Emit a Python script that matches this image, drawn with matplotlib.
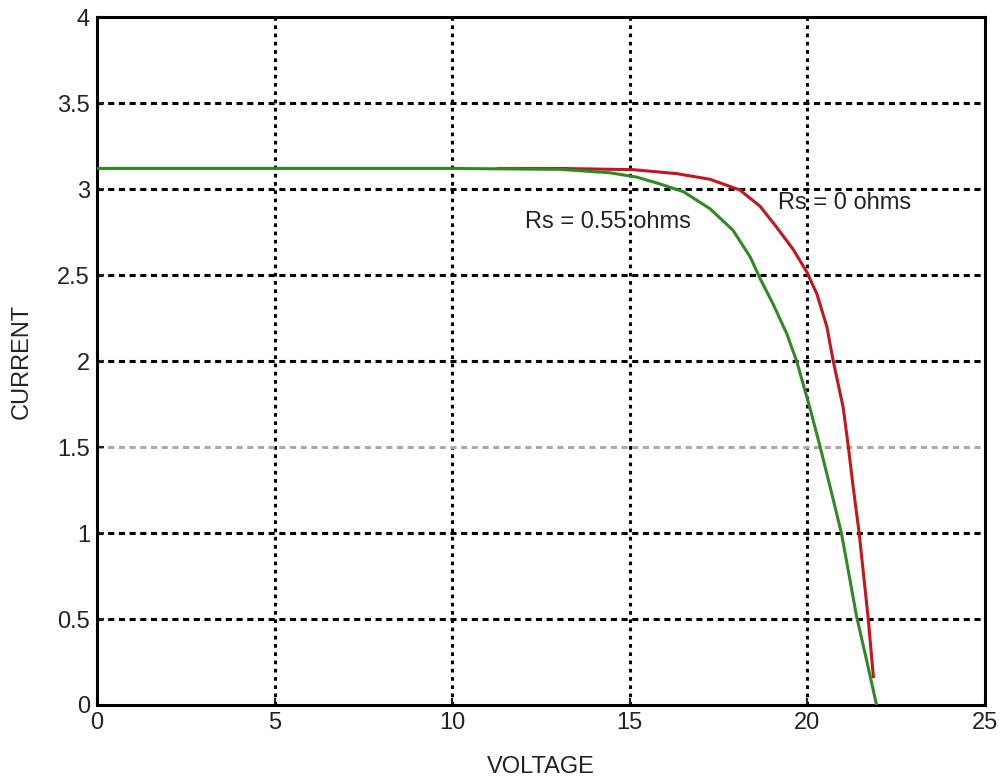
import matplotlib
matplotlib.use("Agg")
import matplotlib.pyplot as plt

plt.rcParams['font.family'] = ['Liberation Sans', 'DejaVu Sans']

# Rs = 0.55 ohms (green)
v_green = [0, 5, 10, 13.03, 14.44, 15.19, 15.85, 16.51, 17.26, 17.91, 18.39, 18.67, 19.04,
           19.42, 19.7, 20.07, 20.35, 20.64, 20.96, 21.39, 21.67, 21.95]
i_green = [3.12, 3.12, 3.12, 3.115, 3.095, 3.07, 3.03, 2.985, 2.886, 2.76, 2.606, 2.48, 2.33,
           2.16, 2.0, 1.73, 1.51, 1.27, 1.0, 0.513, 0.26, 0.0]

# Rs = 0 ohms (red)
v_red = [11.3, 13.03, 15.1, 16.32, 17.26, 18.1, 18.67, 19.13, 19.6, 19.98, 20.27, 20.55,
         20.73, 21.01, 21.15, 21.29, 21.46, 21.71, 21.86]
i_red = [3.12, 3.12, 3.113, 3.09, 3.057, 2.995, 2.90, 2.78, 2.65, 2.52, 2.39, 2.20,
         2.0, 1.73, 1.51, 1.27, 1.0, 0.513, 0.165]

x_ticks = [0, 5, 10, 15, 20, 25]
y_ticks = [0, 0.5, 1, 1.5, 2, 2.5, 3, 3.5, 4]
y_tick_labels = ['0', '0.5', '1', '1.5', '2', '2.5', '3', '3.5', '4']

fig = plt.figure(figsize=(10.01, 7.79), dpi=100)
ax = fig.add_axes([0.0969, 0.095, 0.887, 0.883])

ax.plot(v_red, i_red, color='#c4161c', lw=2.2, zorder=3)
ax.plot(v_green, i_green, color='#2e8b22', lw=2.2, zorder=4)

ax.set_xlim(0, 25)
ax.set_ylim(0, 4)
ax.set_xticks(x_ticks)
ax.set_yticks(y_ticks)
ax.set_yticklabels(y_tick_labels)
ax.tick_params(direction='in', length=5, width=1.5, labelsize=17, colors='#222222')
ax.tick_params(axis='x', pad=5)
ax.tick_params(axis='y', pad=5)

for v in x_ticks[1:-1]:
    ax.axvline(v, color='black', lw=2.2, ls=(0, (1.2, 1.5)), zorder=1)
for y in y_ticks[1:-1]:
    c = '#aaaaaa' if y == 1.5 else 'black'
    ax.axhline(y, color=c, lw=2.2, ls=(0, (2.0, 1.5)), zorder=1)

for s in ax.spines.values():
    s.set_linewidth(2.2)
    s.set_color('black')

ax.text(12.05, 2.81, 'Rs = 0.55 ohms', fontsize=17, va='center', ha='left', color='#222222', zorder=5)
ax.text(19.17, 2.92, 'Rs = 0 ohms', fontsize=17, va='center', ha='left', color='#222222', zorder=5)

ax.set_xlabel('VOLTAGE', fontsize=17, labelpad=16, color='#222222')
ax.set_ylabel('CURRENT', fontsize=17, labelpad=18, color='#222222')

fig.savefig('out.png', dpi=100)
